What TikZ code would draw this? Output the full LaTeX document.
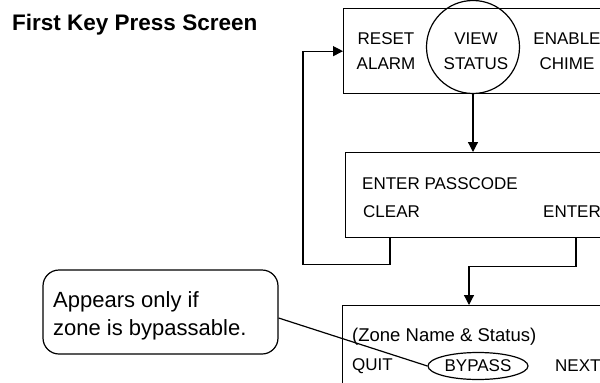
\documentclass[tikz,border=0pt]{standalone}
\usepackage{fontspec}
\setmainfont{Liberation Sans}
\usetikzlibrary{arrows.meta,shapes.geometric}
\tikzset{
  box/.style={draw, line width=1.3pt, rectangle, inner sep=0pt, anchor=north west},
  lbl/.style={inner sep=0pt, font=\fontsize{17}{25}\selectfont},
  arr/.style={line width=1.2pt, -{Triangle[length=10pt,width=10pt]}},
  wire/.style={line width=1.2pt},
}
\begin{document}
\begin{tikzpicture}[x=1pt,y=-1pt]
\useasboundingbox (0,0) rectangle (600,383);
\clip (0,0) rectangle (600,383);
% title
\node[anchor=base west, inner sep=0pt, font=\fontsize{22.5}{27}\selectfont\bfseries] (title) at (12,30) {First Key Press Screen};
% boxes
\node[box, minimum width=300pt, minimum height=85pt] (b1) at (343,8) {};
\node[box, minimum width=300pt, minimum height=85pt] (b2) at (345,152) {};
\node[box, minimum width=300pt, minimum height=120pt] (b3) at (342,305) {};
% top box content
\node[lbl, align=center] (reset) at (386,51) {RESET\\ALARM};
\node[draw, circle, line width=1.2pt, minimum size=93pt, inner sep=0pt] (c) at (473,47) {};
\node[lbl, align=center] (view) at (476,51) {VIEW\\STATUS};
\node[lbl, align=center] (chime) at (567,51) {ENABLE\\CHIME};
% second box content
\node[lbl, anchor=west] (pass) at (362,183.5) {ENTER PASSCODE};
\node[lbl, anchor=west] (clear) at (363,211.5) {CLEAR};
\node[lbl, anchor=west] (enter) at (543,211.5) {ENTER};
% third box content
\node[lbl, anchor=west, font=\fontsize{18.5}{22}\selectfont] (zone) at (352,337) {(Zone Name \& Status)};
\node[lbl, anchor=west] (quit) at (352,366) {QUIT};
\node[draw, ellipse, line width=1.2pt, minimum width=100pt, minimum height=27pt, inner sep=0pt, font=\fontsize{17}{20}\selectfont] (bp) at (478,366) {BYPASS};
\node[lbl, anchor=west] (next) at (555,366) {NEXT};
% callout
\node[draw, line width=1.2pt, rounded corners=16pt, minimum width=235pt, minimum height=84pt, inner sep=0pt] (co) at (160.5,312) {};
\node[anchor=west, align=left, inner sep=0pt, font=\fontsize{22}{28}\selectfont] (cotext) at (53,316) {Appears only if\\zone is bypassable.};
% connectors
\draw[arr] (c.south) -- (c.south |- b2.north);
\draw[arr] ([xshift=45pt]b2.south west) -- ++(0,26) -| ([xshift=-40pt]b1.west) -- (b1.west);
\draw[arr] ([xshift=231pt]b2.south west) -- ++(0,28) -| ([xshift=127pt]b3.north west);
\draw[wire] ([yshift=-6pt]co.east) -- (bp.west);
\end{tikzpicture}
\end{document}
